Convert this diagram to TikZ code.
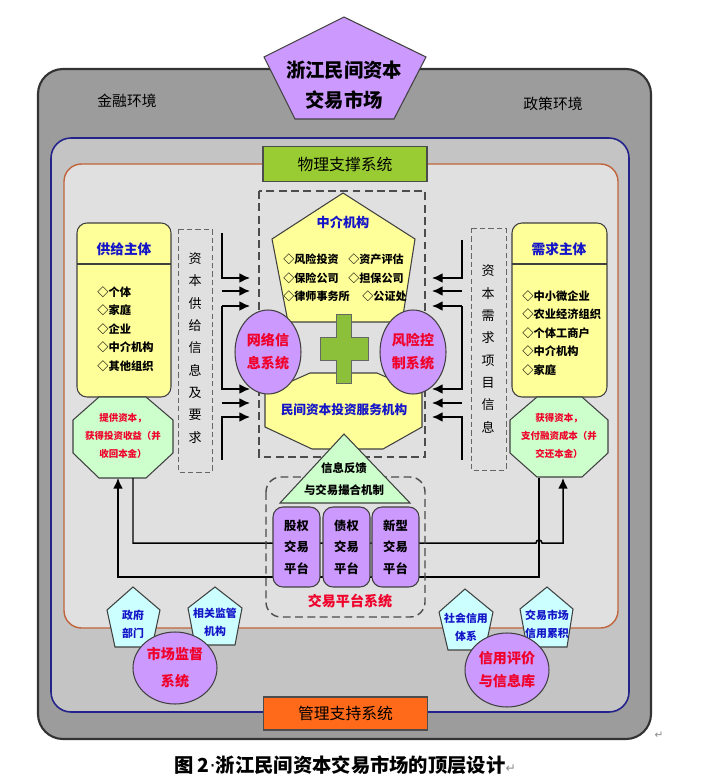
\documentclass[tikz,border=0pt]{standalone}
\usepackage{fontspec}
\setmainfont{Noto Sans CJK SC}
\newfontfamily\symfont{DejaVu Sans}
\usetikzlibrary{arrows.meta,shapes.geometric}

\definecolor{outergray}{HTML}{9C9C9C}
\definecolor{bandgray}{HTML}{C4C4C4}
\definecolor{innergray}{HTML}{E0E0E0}
\definecolor{navyline}{HTML}{22228A}
\definecolor{rustline}{HTML}{C0643C}
\definecolor{leafgreen}{HTML}{99CC33}
\definecolor{crossgreen}{HTML}{8CBF3A}
\definecolor{barorange}{HTML}{FF6A1A}
\definecolor{lavender}{HTML}{CC99FF}
\definecolor{paleyellow}{HTML}{FFFF99}
\definecolor{palegreen}{HTML}{CCFFCC}
\definecolor{palecyan}{HTML}{CCFFFF}
\definecolor{titleblue}{HTML}{1414C8}
\definecolor{alertred}{HTML}{F0002A}

\newcommand{\setfs}[2]{\fontsize{#1}{#2}\selectfont}

\tikzset{
  txt/.style={inner sep=0pt, align=center},
  shapeline/.style={draw=black!75, line width=0.6pt},
  bar/.style={draw=black!70, line width=0.6pt, minimum width=3.28cm, inner sep=0pt, font=\setfs{9}{10}},
  dashbox/.style={draw=black!70, line width=0.8pt, dash pattern=on 4.5pt off 2.5pt},
  thindash/.style={draw=black!60, line width=0.5pt, dash pattern=on 3pt off 1.8pt},
  flow/.style={draw=black, line width=0.85pt, -{Latex[length=6pt,width=5.5pt]}},
  sysball/.style={ellipse, draw=black!75, line width=0.6pt, fill=lavender, text=alertred,
    inner sep=0pt, align=center, font=\bfseries\setfs{8}{13}},
  platform/.style={draw=black!75, line width=0.6pt, fill=lavender, rounded corners=0.2cm,
    minimum width=0.94cm, minimum height=1.6cm, inner sep=0pt, align=center, font=\bfseries\setfs{7}{12.2}},
  itemlist/.style={inner sep=0pt, align=left, anchor=west, font=\bfseries\setfs{6.4}{10.6}},
  gain/.style={txt, text=alertred, font=\bfseries\setfs{5.4}{10.2}},
  tag/.style={txt, text=titleblue, font=\bfseries\setfs{6.2}{10.2}},
  vert/.style={txt, font=\setfs{7.4}{12.7}}
}

\begin{document}
\begin{tikzpicture}[x=0.02cm, y=-0.02cm]
\useasboundingbox (0,0) rectangle (707,784);

% 外层环境
\draw[fill=outergray, draw=black!80, line width=1.2pt, rounded corners=0.5cm] (38,69) rectangle (651,739);
\draw[fill=bandgray, draw=navyline, line width=0.9pt, rounded corners=0.4cm] (51,138) rectangle (629,712);
\draw[fill=innergray, draw=rustline, line width=0.8pt, rounded corners=0.35cm] (64,164) rectangle (618,628);

% 顶部五边形
\draw[shapeline, fill=lavender] (344,17) -- (426,57) -- (394,119) -- (295,119) -- (264,57) -- cycle;
\node[txt, font=\bfseries\setfs{11}{17}] (market) at (344,85) {浙江民间资本\\交易市场};
\node[txt, font=\setfs{8.4}{9}] (finEnv) at (127,101) {金融环境};
\node[txt, font=\setfs{8.4}{9}] (polEnv) at (553,104) {政策环境};

% 支撑系统
\node[bar, fill=leafgreen, minimum height=0.7cm] (physSys) at (345,164) {物理支撑系统};
\node[bar, fill=barorange, minimum height=0.66cm] (mgmtSys) at (345.5,713.5) {管理支持系统};

% 中介区虚线框
\draw[dashbox] (259,191) rectangle (425,457);

% 供给主体
\draw[shapeline, fill=paleyellow, rounded corners=0.2cm] (77,223) rectangle (171,397);
\draw[shapeline] (77,264) -- (171,264);
\node[txt, text=titleblue, font=\bfseries\setfs{7.8}{9}] (supHead) at (124,249) {供给主体};
\node[itemlist] (supList) at (97,329) {◇个体\\◇家庭\\◇企业\\◇中介机构\\◇其他组织};
\draw[shapeline, fill=palegreen] (99,397) -- (146,397) -- (173,420) -- (173,453) -- (146,478) -- (99,478) -- (73,453) -- (73,420) -- cycle;
\node[gain] (supGain) at (123,436) {提供资本，\\获得投资收益（并\\收回本金）};

% 需求主体
\draw[shapeline, fill=paleyellow, rounded corners=0.2cm] (512,223) rectangle (607,397);
\draw[shapeline] (512,264) -- (607,264);
\node[txt, text=titleblue, font=\bfseries\setfs{7.8}{9}] (demHead) at (559,249) {需求主体};
\node[itemlist] (demList) at (522,333) {◇中小微企业\\◇农业经济组织\\◇个体工商户\\◇中介机构\\◇家庭};
\draw[shapeline, fill=palegreen] (537,397) -- (582,397) -- (608,420) -- (608,453) -- (582,477) -- (537,477) -- (510,453) -- (510,420) -- cycle;
\node[gain] (demGain) at (559,436) {获得资本，\\支付融资成本（并\\交还本金）};

% 竖排信息框
\draw[thindash] (178,229) rectangle (212,472);
\node[vert] (supInfo) at (195,348) {资\\本\\供\\给\\信\\息\\及\\要\\求};
\draw[thindash] (471,228) rectangle (506,470);
\node[vert] (demInfo) at (488,349) {资\\本\\需\\求\\项\\目\\信\\息};

% 信息流箭头
\foreach \k/\yy in {1/278,2/291,3/306,4/389,5/403,6/417}{
  \coordinate (inL\k) at (250,\yy);
  \coordinate (inR\k) at (432,\yy);
}
\coordinate (supTop) at (222,233);
\coordinate (supBot) at (222,460);
\coordinate (demTop) at (462,240);
\coordinate (demBot) at (462,460);
\draw[flow] (supTop) |- (inL1);
\draw[flow] (inL2 -| supTop) -- (inL2);
\draw[flow] (inL3 -| supTop) -- (inL3);
\draw[flow] (inL3 -| supTop) |- (inL4);
\draw[flow] (inL5 -| supTop) -- (inL5);
\draw[flow] (supBot) |- (inL6);
\draw[flow] (demTop) |- (inR1);
\draw[flow] (inR2 -| demTop) -- (inR2);
\draw[flow] (inR3 -| demTop) -- (inR3);
\draw[flow] (inR3 -| demTop) |- (inR4);
\draw[flow] (inR5 -| demTop) -- (inR5);
\draw[flow] (demBot) |- (inR6);

% 中介机构与服务机构
\draw[shapeline, fill=paleyellow] (343,193) -- (415,239) -- (402,322) -- (288,322) -- (272,239) -- cycle;
\node[txt, text=titleblue, font=\bfseries\setfs{7.5}{9}] (agency) at (343,222) {中介机构};
\node[itemlist, font=\bfseries\setfs{6.3}{10.5}] (agencyL) at (283,278) {◇风险投资\\◇保险公司\\◇律师事务所};
\node[itemlist, font=\bfseries\setfs{6.3}{10.5}] (agencyR) at (348,278) {◇资产评估\\◇担保公司\\\hspace{8pt}◇公证处};
\draw[shapeline, fill=paleyellow] (310,373) -- (377,373) -- (422,393) -- (422,427) -- (383,449) -- (312,449) -- (265,427) -- (265,393) -- cycle;
\node[txt, text=titleblue, font=\bfseries\setfs{7.2}{9}] (service) at (344,410) {民间资本投资服务机构};
\draw[draw=black!60, line width=0.4pt, fill=crossgreen] (336,314) -- (351,314) -- (351,337) -- (368,337) -- (368,360) -- (351,360)
  -- (351,383) -- (336,383) -- (336,360) -- (320,360) -- (320,337) -- (336,337) -- cycle;
\node[sysball, minimum width=1.32cm, minimum height=1.68cm] (netSys) at (268,352) {网络信\\息系统};
\node[sysball, minimum width=1.32cm, minimum height=1.68cm] (riskSys) at (413,352) {风险控\\制系统};

% 资金往来
\coordinate (supB1) at (133,478);
\coordinate (supB2) at (118,478);
\coordinate (demB1) at (563,478);
\coordinate (demB2) at (539,478);
\draw[flow] (supB1) -- ++(0,65) -- (536,543) arc[start angle=180, end angle=360, radius=3] -| (demB1);
\draw[flow] (demB2) -- ++(0,99) -| (supB2);

% 交易平台系统
\draw[dashbox, rounded corners=0.3cm] (266,477) rectangle (425,617);
\draw[shapeline, fill=palegreen] (344,434) -- (410,503) -- (280,503) -- cycle;
\node[txt, font=\bfseries\setfs{6.5}{12.5}] (feedback) at (344,479) {信息反馈\\与交易撮合机制};
\node[platform] (pGu) at (296.5,547) {股权\\交易\\平台};
\node[platform] (pZhai) at (346.5,547) {债权\\交易\\平台};
\node[platform] (pXin) at (395.5,547) {新型\\交易\\平台};
\node[txt, text=alertred, font=\bfseries\setfs{8}{9}] (tradeSys) at (350,601) {交易平台系统};

% 市场监督
\draw[shapeline, fill=palecyan] (133,587) -- (160,610) -- (152,647) -- (115,647) -- (107,610) -- cycle;
\node[tag] (gov) at (133,624) {政府\\部门};
\draw[shapeline, fill=palecyan] (215,587) -- (242,608) -- (235,645) -- (195,645) -- (188,608) -- cycle;
\node[tag] (regulator) at (215,622) {相关监管\\机构};
\node[sysball, minimum width=1.68cm, minimum height=1.44cm, font=\bfseries\setfs{8}{15.3}] (superSys) at (175,668) {市场监督\\系统};

% 信用评价
\draw[shapeline, fill=palecyan] (465,589) -- (493,612) -- (485,650) -- (448,650) -- (439,612) -- cycle;
\node[tag] (socCredit) at (466,627) {社会信用\\体系};
\draw[shapeline, fill=palecyan] (547,587) -- (573,609) -- (567,647) -- (527,647) -- (520,609) -- cycle;
\node[tag] (mktCredit) at (547,624) {交易市场\\信用累积};
\node[sysball, minimum width=1.68cm, minimum height=1.48cm] (creditSys) at (507,670) {信用评价\\与信息库};

% 图题
\node[txt, font=\bfseries\setfs{11}{12}] (caption) at (345,765) {图 2{\symfont\mdseries·}浙江民间资本交易市场的顶层设计{\symfont\mdseries\color{black!45}\setfs{7}{8}↵}};
\node[txt, text=black!45, font=\symfont\setfs{6}{7}] (endMark) at (659,735) {↵};
\end{tikzpicture}
\end{document}
